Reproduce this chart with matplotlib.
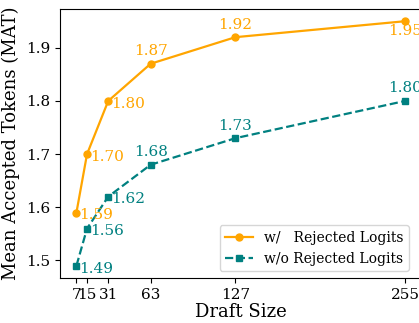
import matplotlib
matplotlib.use("Agg")
import matplotlib.pyplot as plt

draft_size = [7, 15, 31, 63, 127, 255]
mat_with = [1.59, 1.70, 1.80, 1.87, 1.92, 1.95]
mat_without = [1.49, 1.56, 1.62, 1.68, 1.73, 1.80]

# label placement per point: "r" = right of marker, "a" = above, "b" = below
pos_with = ["r", "r", "r", "a", "a", "b"]
pos_without = ["r", "r", "r", "a", "a", "a"]

ORANGE = "#FFA500"
TEAL = "#008080"

plt.rcParams["font.family"] = "DejaVu Serif"

fig = plt.figure(figsize=(4.19, 3.23), dpi=100)
ax = fig.add_axes([60 / 419, 45 / 323, 361.4 / 419, 269 / 323])

ax.plot(draft_size, mat_with, "-o", color=ORANGE, lw=1.6, ms=5, label="w/   Rejected Logits")
ax.plot(draft_size, mat_without, "--s", color=TEAL, lw=1.6, ms=5, label="w/o Rejected Logits")


def label_points(xs, ys, where, color):
    for x, y, w in zip(xs, ys, where):
        if w == "r":
            ax.annotate(f"{y:.2f}", (x, y), xytext=(2, -2), textcoords="offset points",
                        ha="left", va="center", color=color, fontsize=11)
        elif w == "a":
            ax.annotate(f"{y:.2f}", (x, y), xytext=(0, 4), textcoords="offset points",
                        ha="center", va="bottom", color=color, fontsize=11)
        else:
            ax.annotate(f"{y:.2f}", (x, y), xytext=(0, -2), textcoords="offset points",
                        ha="center", va="top", color=color, fontsize=11)


label_points(draft_size, mat_with, pos_with, ORANGE)
label_points(draft_size, mat_without, pos_without, TEAL)

ax.set_xticks(draft_size)
ax.set_xticklabels([str(d) for d in draft_size])
ax.set_yticks([1.5, 1.6, 1.7, 1.8, 1.9])
ax.tick_params(labelsize=11)
ax.set_xlabel("Draft Size", fontsize=13, labelpad=1)
ax.set_ylabel("Mean Accepted Tokens (MAT)", fontsize=13)
ax.legend(loc="lower right", fontsize=10, bbox_to_anchor=(0.985, 0.0))

fig.savefig("out.png", dpi=100)
